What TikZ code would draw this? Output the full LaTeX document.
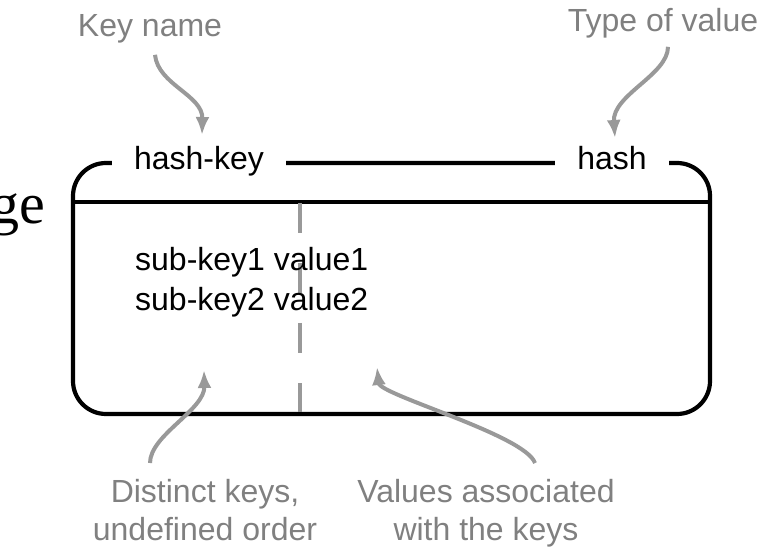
\documentclass[tikz,border=0pt]{standalone}
\usepackage{fontspec}
\setmainfont{Liberation Sans}
\newfontfamily\serifface{Liberation Serif}
\usetikzlibrary{arrows.meta}

\definecolor{notegray}{RGB}{128,128,128}
\definecolor{pointergray}{RGB}{153,153,153}

\begin{document}
\begin{tikzpicture}[x=1pt, y=-1pt, font=\fontsize{32}{38}\selectfont,
  note/.style={text=notegray, inner sep=2pt, align=center},
  title/.style={fill=white, inner xsep=22pt, inner ysep=2pt, anchor=base},
  pointer/.style={pointergray, line width=4pt, -{Latex[length=18pt, width=14pt]}},
  frame/.style={line width=4.2pt, rounded corners=33pt}]

\useasboundingbox (0,0) rectangle (774,553);

\node[anchor=base east, inner sep=0pt, font=\serifface\fontsize{58}{58}\selectfont] (word) at (45,224) {ge};

% the record box
\draw[frame] (73,163) rectangle (710,414);
\draw[line width=4.2pt] (73,202) -- (710,202);
\draw[pointergray, line width=4pt, dash pattern=on 30pt off 30pt] (300,203) -- (300,412);

\node[title] (hashkey) at (199,170) {hash-key};
\node[title] (hashtype) at (612,170) {hash};

\node[anchor=base west, inner sep=0pt] (pair1) at (135,271) {sub-key1 value1};
\node[anchor=base west, inner sep=0pt] (pair2) at (135,311) {sub-key2 value2};

% labels round the box
\node[note, anchor=base] (keyname) at (150,37) {Key name};
\node[note, anchor=base] (valtype) at (663,32) {Type of value};
\node[note, anchor=north] (distinct) at (205,477) {Distinct keys,\\undefined order};
\node[note, anchor=north] (values) at (486,477) {Values associated\\with the keys};

\coordinate (kn-tip) at (202,135);
\coordinate (vt-tip) at (615,138);
\coordinate (dk-tip) at (204,370);
\coordinate (va-tip) at (377,367);

\draw[pointer] ([shift={(5,9)}]keyname.south) .. controls +(3,30) and +(1,-40) .. (kn-tip);
\draw[pointer] ([shift={(5,6)}]valtype.south) .. controls +(0,28) and +(-3,-43) .. (vt-tip);
\draw[pointer] ([shift={(-55,-14)}]distinct.north) .. controls +(0,-28) and +(1,40) .. (dk-tip);
\draw[pointer] ([shift={(49,-14)}]values.north) .. controls +(-10,-28) and +(3,28) .. (va-tip);

\end{tikzpicture}
\end{document}
